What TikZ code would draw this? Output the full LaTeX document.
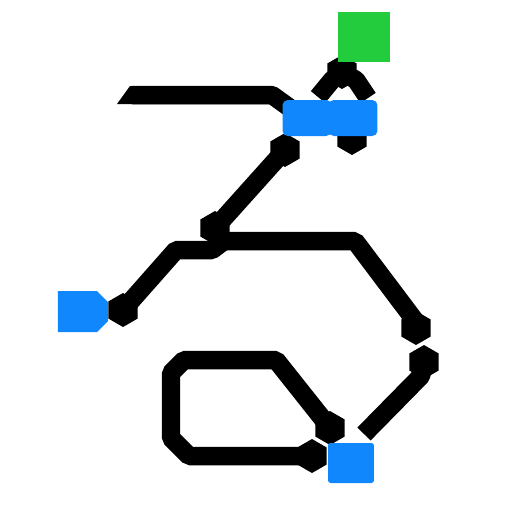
\documentclass[tikz,border=0pt]{standalone}
\usetikzlibrary{shapes.geometric}
\definecolor{bl}{HTML}{1187FD}
\definecolor{gr}{HTML}{22CC3D}
\begin{document}
\begin{tikzpicture}[x=0.02cm,y=-0.02cm,
 wire/.style={line width=0.37cm, line join=bevel, draw=black},
 hexcap/.style={regular polygon, regular polygon sides=6, shape border rotate=30, fill=black, minimum size=0.68cm, inner sep=0pt},
 bbox/.style={fill=bl, rounded corners=3pt, inner sep=0pt}]
\useasboundingbox (0,0) rectangle (512,512);
% coordinates
\coordinate (t1) at (132,95);
\coordinate (t2) at (272,95);
\coordinate (a1) at (285,150);
\coordinate (a2) at (215,228);
\coordinate (a3) at (224,241);
\coordinate (a4) at (355,241);
\coordinate (a5) at (416,322);
\coordinate (b1) at (123,310);
\coordinate (b2) at (176,250);
\coordinate (b3) at (212,250);
\coordinate (l1) at (330,428);
\coordinate (l2) at (276,360);
\coordinate (l3) at (184,360);
\coordinate (l4) at (171,373);
\coordinate (l5) at (171,438);
\coordinate (l6) at (189,456);
\coordinate (l7) at (312,456);
\coordinate (r1) at (364,434);
\coordinate (r2) at (421,376);
\coordinate (r3) at (424,362);
\coordinate (c1) at (318,97);
\coordinate (c2) at (342,72);
\coordinate (c3) at (368,98);
% wires
\fill (117,104) -- (130,86) -- (t2 |- 0,86) -- (t2 |- 0,104) -- cycle;
\draw[wire] (t1) -- (t2) -- (290,108);
\draw[wire] (a1) -- (a2) -- (a3) -- (a4) -- (a5);
\draw[wire] (b1) -- (b2) -- (b3) -- (a3);
\draw[wire] (l1) -- (l2) -- (l3) -- (l4) -- (l5) -- (l6) -- (l7);
\draw[wire] (r1) -- (r2) -- (r3);
\draw[wire] (c1) -- (332,80) -- (c2) -- (356,80) -- (c3);
% caps
\node[hexcap] (h1) at (a1) {};
\node[hexcap] (h2) at (a2) {};
\node[hexcap] (h3) at (b1) {};
\node[hexcap] (h4) at (416,328) {};
\node[hexcap] (h5) at (l1) {};
\node[hexcap] (h6) at (l7) {};
\node[hexcap] (h7) at (r3) {};
\node[hexcap] (h8) at (c2) {};
\node[hexcap] (h9) at (352,138) {};
% boxes
\node[fill=gr, minimum width=1.04cm, minimum height=1.0cm, inner sep=0pt] (g) at (364,37) {};
\node[bbox, minimum width=0.98cm, minimum height=0.72cm] (p) at (307,118) {};
\node[bbox, minimum width=0.98cm, minimum height=0.72cm] (q) at (353,118) {};
\fill[bl] (58,291) -- (97,291) -- (108,302) -- (108,321) -- (97,332) -- (58,332) -- cycle;
\node[inner sep=0pt, minimum width=1.0cm, minimum height=0.82cm] (s) at (83,311) {};
\node[bbox, rounded corners=1.5pt, minimum width=0.92cm, minimum height=0.8cm] (u) at (351,463) {};
\end{tikzpicture}
\end{document}
